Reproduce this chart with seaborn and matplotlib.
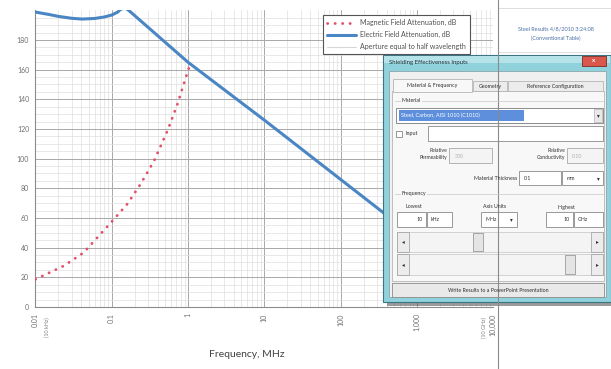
import pandas as pd
import matplotlib
matplotlib.use("Agg")
import matplotlib.pyplot as plt
from matplotlib.patches import Rectangle
from matplotlib.lines import Line2D
from matplotlib.ticker import FixedLocator, NullFormatter
import seaborn as sns

# --- values ---
ELEC_FREQ_MHZ = [0.01, 0.015, 0.02, 0.03, 0.041, 0.06, 0.08, 0.1, 0.12, 0.13, 0.15, 0.165, 1, 10, 100, 1000, 10000]
ELEC_DB = [198.8, 197.2, 195.9, 194.6, 194.1, 194.5, 195.5, 196.8, 198.8, 200.6, 201.5, 200.2, 165, 126, 86, 46, 6]
MAG_FREQ_MHZ = [0.01, 0.0235, 0.043, 0.102, 0.16, 0.24, 0.36, 0.54, 0.73, 0.94, 1.04]
MAG_DB = [18.7, 27.7, 36.7, 58, 69.4, 83, 98.6, 119, 137, 155, 162]

X_TICKS = [0.01, 0.1, 1, 10, 100, 1000, 10000]
X_TICK_LABELS = ["0.01", "0.1", "1", "10", "100", "1,000", "10,000"]
Y_TICKS = list(range(0, 181, 20))

W, H = 611, 369

sns.set_style("white")
plt.rcParams["font.family"] = ["Lato", "DejaVu Sans"]

fig = plt.figure(figsize=(W / 100, H / 100), dpi=100)
ax = fig.add_axes([35.4 / W, 1 - 307 / H, (493.2 - 35.4) / W, (307 - 10.3) / H])

elec = pd.DataFrame({"freq": ELEC_FREQ_MHZ, "db": ELEC_DB})
mag = pd.DataFrame({"freq": MAG_FREQ_MHZ, "db": MAG_DB})

sns.lineplot(data=elec, x="freq", y="db", ax=ax, color="#4a86c4", linewidth=2.2,
             label="Electric Field Attenuation, dB", zorder=4)
sns.lineplot(data=mag, x="freq", y="db", ax=ax, color="#e2506a", linewidth=2.0,
             linestyle=(0, (0.1, 2.6)), dash_capstyle="round",
             label="Magnetic Field Attenuation, dB", zorder=5)

ax.set_xscale("log")
ax.set_xlim(0.01, 10000)
ax.set_ylim(0, 200)
ax.set_xticks(X_TICKS)
ax.set_xticklabels(X_TICK_LABELS, rotation=90, va="top")
ax.xaxis.set_minor_locator(FixedLocator([m * d for d in X_TICKS[:-1] for m in range(2, 10)]))
ax.xaxis.set_minor_formatter(NullFormatter())
ax.set_yticks(Y_TICKS)
ax.yaxis.set_minor_locator(FixedLocator(list(range(5, 200, 5))))
ax.tick_params(axis="both", which="major", labelsize=5, labelcolor="#707070",
               length=2.5, width=0.6, color="#888888", pad=2)
ax.tick_params(axis="both", which="minor", length=0)
ax.grid(which="major", color="#a8a8a8", linewidth=0.7)
ax.grid(which="minor", color="#dedede", linewidth=0.5)
ax.set_axisbelow(True)
for side in ["top", "right"]:
    ax.spines[side].set_visible(False)
for side in ["left", "bottom"]:
    ax.spines[side].set_color("#8c8c8c")
    ax.spines[side].set_linewidth(0.8)

ax.set_xlabel("Frequency, MHz", fontsize=7.5, color="#404040")
ax.xaxis.set_label_coords((247 - 35.4) / (493.2 - 35.4), -(350 - 307) / (307 - 10.3))
ax.set_ylabel("")

# legend in the top box
handles, labels = ax.get_legend_handles_labels()
h_map = dict(zip(labels, handles))
aperture = Line2D([], [], color="#d6d6d6", linewidth=0.8)
leg = ax.legend([h_map["Magnetic Field Attenuation, dB"], h_map["Electric Field Attenuation, dB"], aperture],
                ["Magnetic Field Attenuation, dB", "Electric Field Attenuation, dB",
                 "Aperture equal to half wavelength"],
                loc="upper left", bbox_to_anchor=(320 / W, 1 - 12 / H), bbox_transform=fig.transFigure,
                fontsize=5, frameon=True, fancybox=False, edgecolor="#555555", framealpha=1,
                handlelength=4.2, labelspacing=0.75, borderpad=0.5, handletextpad=0.6)
leg.get_frame().set_linewidth(0.8)
for t in leg.get_texts():
    t.set_color("#505050")

# --- overlay in pixel coordinates: text box and the input dialog ---
ov = fig.add_axes([0, 0, 1, 1], zorder=10)
ov.set_xlim(0, W)
ov.set_ylim(H, 0)
ov.axis("off")


def box(x0, y0, x1, y1, fc="white", ec="#9a9a9a", lw=0.6, **kw):
    ov.add_patch(Rectangle((x0, y0), x1 - x0, y1 - y0, facecolor=fc, edgecolor=ec, linewidth=lw, **kw))


def label(x, y, s, size=4, color="#303030", ha="left", **kw):
    ov.text(x, y, s, fontsize=size, color=color, ha=ha, va="center", **kw)


# secondary tick captions
ov.text(47, 317, "(10 kHz)", fontsize=4, color="#808080", rotation=90, ha="center", va="top")
ov.text(484, 317, "(10 GHz)", fontsize=4, color="#808080", rotation=90, ha="center", va="top")

# chart border line on the right
ov.plot([498, 498], [0, H], color="#8a8a8a", linewidth=0.8)

# text box top right
box(498, 8, 611, 52, fc="white", ec="#d0d0d0", lw=0.5)
label(556, 29, "Steel Results 4/8/2010 3:24:08", size=4, color="#4a6fa5", ha="center")
label(556, 38, "(Conventional Table)", size=4, color="#4a6fa5", ha="center")

# dialog shadow and frame
box(387, 60, 615, 306, fc="#4a4a4a", ec="none", lw=0, alpha=0.55)
box(383, 55, 611, 302, fc="#8fd2dc", ec="#3c7484", lw=0.8)
box(384, 56, 610, 63, fc="#b6e3ea", ec="none", lw=0)
label(389, 62.5, "Shielding Effectiveness Inputs", size=4.3, color="#1c2c30")
box(582, 55.5, 606, 66, fc="#d9574b", ec="#7c2a22", lw=0.6)
label(594, 60.5, "x", size=4.5, color="white", ha="center", fontweight="bold")
box(389, 71, 606, 297, fc="#f0f0f0", ec="#8aa6ac", lw=0.6)

# tabs
box(392, 91, 604, 281, fc="#f8f8f8", ec="#b5b5b5", lw=0.6)
box(393, 79, 472, 92, fc="#f8f8f8", ec="#b5b5b5", lw=0.6)
box(473, 81, 507, 91, fc="#ececec", ec="#b5b5b5", lw=0.6)
box(508, 81, 603, 91, fc="#ececec", ec="#b5b5b5", lw=0.6)
label(432.5, 86, "Material & Frequency", size=3.8, ha="center")
label(490, 86.5, "Geometry", size=3.8, ha="center")
label(555.5, 86.5, "Reference Configuration", size=3.8, ha="center")

# material group
ov.plot([395, 603], [101, 101], color="#c8c8c8", linewidth=0.5)
label(402, 101, "Material", size=3.8, bbox=dict(fc="#f8f8f8", ec="none", pad=0.5))
box(396, 108, 603, 123, fc="white", ec="#7a7a7a")
box(399, 110, 524, 121, fc="#5d8fdc", ec="none", lw=0)
label(401, 115.5, "Steel, Carbon, AISI 1010 (C1010)", size=4, color="white")
box(594, 109, 602, 122, fc="#e8e8e8", ec="#a0a0a0", lw=0.4)
label(598, 116, "\u25be", size=4, color="#303030", ha="center")
box(396, 131, 402, 137, fc="white", ec="#707070", lw=0.5)
label(405, 134, "Input", size=3.8)
box(428, 126, 603, 141, fc="white", ec="#8a8a8a")

label(447, 150, "Relative", size=3.6, ha="right")
label(447, 157, "Permeability", size=3.6, ha="right")
box(449, 148, 492, 163, fc="#f4f4f4", ec="#a8a8a8")
label(455, 156, "300", size=3.8, color="#b0b0b0")
label(565, 150, "Relative", size=3.6, ha="right")
label(565, 157, "Conductivity", size=3.6, ha="right")
box(567, 148, 603, 163, fc="#f4f4f4", ec="#a8a8a8")
label(572, 156, "0.10", size=3.8, color="#b0b0b0")
label(517, 178, "Material Thickness", size=3.8, ha="right")
box(519, 171, 561, 185, fc="white", ec="#8a8a8a")
label(524, 178, "0.1", size=3.8)
box(562, 171, 603, 185, fc="white", ec="#8a8a8a")
label(567, 178, "mm", size=3.8)
label(598, 178.5, "\u25be", size=4, ha="center")

# frequency group
ov.plot([395, 603], [194, 194], color="#c8c8c8", linewidth=0.5)
label(402, 194, "Frequency", size=3.8, bbox=dict(fc="#f8f8f8", ec="none", pad=0.5))
label(405, 207, "Lowest", size=3.8)
box(397, 212, 426, 227, fc="white", ec="#8a8a8a")
label(423, 219.5, "10", size=3.8, ha="right")
box(427, 212, 452, 227, fc="white", ec="#8a8a8a")
label(431, 219.5, "kHz", size=3.8)
label(495, 207, "Axis Units", size=3.8, ha="center")
box(481, 212, 517, 227, fc="white", ec="#8a8a8a")
label(485, 219.5, "MHz", size=3.8)
label(511, 220, "\u25be", size=4, ha="center")
label(566, 207, "Highest", size=3.8, ha="center")
box(546, 212, 573, 227, fc="white", ec="#8a8a8a")
label(570, 219.5, "10", size=3.8, ha="right")
box(574, 212, 603, 227, fc="white", ec="#8a8a8a")
label(578, 219.5, "GHz", size=3.8)

# two slider bars
for y0, y1, tx in [(232, 252, 473), (254, 275, 565)]:
    box(397, y0, 603, y1, fc="#f4f4f4", ec="#c4c4c4", lw=0.5)
    box(397, y0, 409, y1, fc="#ececec", ec="#9a9a9a", lw=0.5)
    box(591, y0, 603, y1, fc="#ececec", ec="#9a9a9a", lw=0.5)
    label(403, (y0 + y1) / 2, "\u25c2", size=4, ha="center")
    label(597, (y0 + y1) / 2, "\u25b8", size=4, ha="center")
    box(tx, y0 + 1, tx + 10, y1 - 1, fc="#e4e4e4", ec="#8a8a8a", lw=0.5)

# bottom button
box(392, 283, 604, 297, fc="#e9e9e9", ec="#8a8a8a")
label(498, 290, "Write Results to a PowerPoint Presentation", size=3.8, ha="center")

fig.savefig("out.png", dpi=100, facecolor="white")
